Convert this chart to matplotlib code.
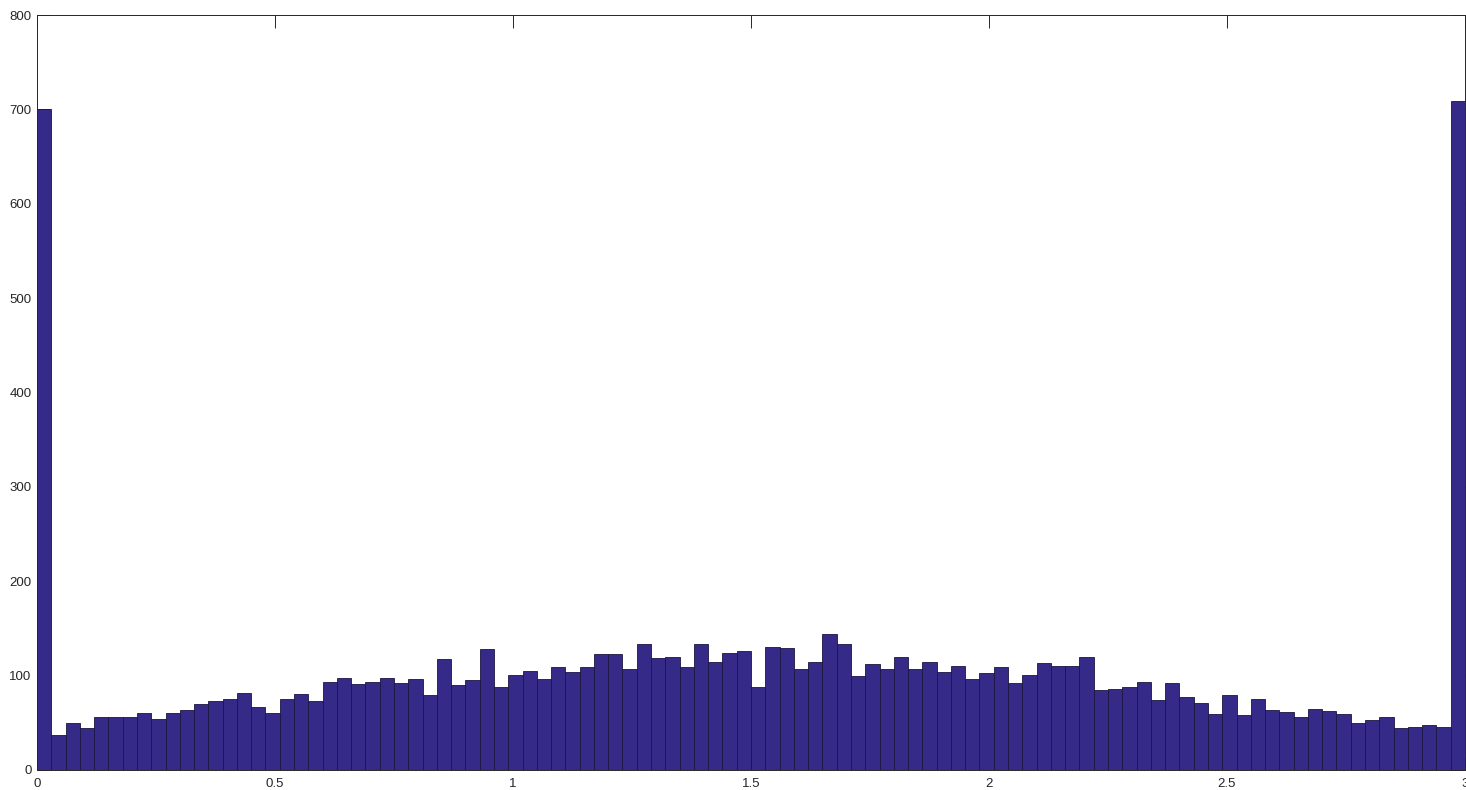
import numpy as np
import matplotlib.pyplot as plt

# bin edges: 100 bins over [0, 3]
bin_edges = np.linspace(0, 3, 101)

# counts per bin
counts = [
    700, 37, 50, 44, 56, 56, 56, 60, 54, 60,
    64, 70, 73, 75, 82, 67, 60, 75, 81, 73,
    93, 97, 91, 93, 98, 92, 96, 80, 118, 90,
    95, 128, 88, 101, 105, 96, 109, 104, 109, 123,
    123, 107, 133, 119, 120, 109, 134, 114, 124, 126,
    88, 130, 129, 107, 114, 144, 133, 100, 112, 107,
    120, 107, 114, 104, 110, 96, 103, 109, 92, 101,
    113, 110, 110, 120, 85, 86, 88, 93, 74, 92,
    77, 71, 59, 79, 58, 75, 64, 61, 56, 65,
    63, 59, 50, 53, 56, 45, 46, 48, 46, 709,
]

y_ticks = [0, 100, 200, 300, 400, 500, 600, 700, 800]
x_ticks = [0, 0.5, 1, 1.5, 2, 2.5, 3]

plt.rcParams['font.family'] = ['Liberation Sans', 'DejaVu Sans']

fig = plt.figure(figsize=(14.66, 7.90), dpi=100)
ax = fig.add_axes([37/1466, 20/790, 1428/1466, 755/790])

ax.bar(bin_edges[:-1], counts, width=np.diff(bin_edges), align='edge',
       color='#352a87', edgecolor='#1b1640', linewidth=0.6)

ax.set_xlim(0, 3)
ax.set_ylim(0, 800)
ax.set_xticks(x_ticks)
ax.set_xticklabels(['0', '0.5', '1', '1.5', '2', '2.5', '3'])
ax.set_yticks(y_ticks)
ax.set_axisbelow(True)
ax.tick_params(direction='in', top=True, right=True, length=9.5, width=0.7,
               labelsize=9.5, labelcolor='#262626', color='#262626', pad=4)
ax.tick_params(axis='x', pad=6)
for s in ax.spines.values():
    s.set_color('#262626')
    s.set_linewidth(0.7)

fig.savefig('out.png', dpi=100)
